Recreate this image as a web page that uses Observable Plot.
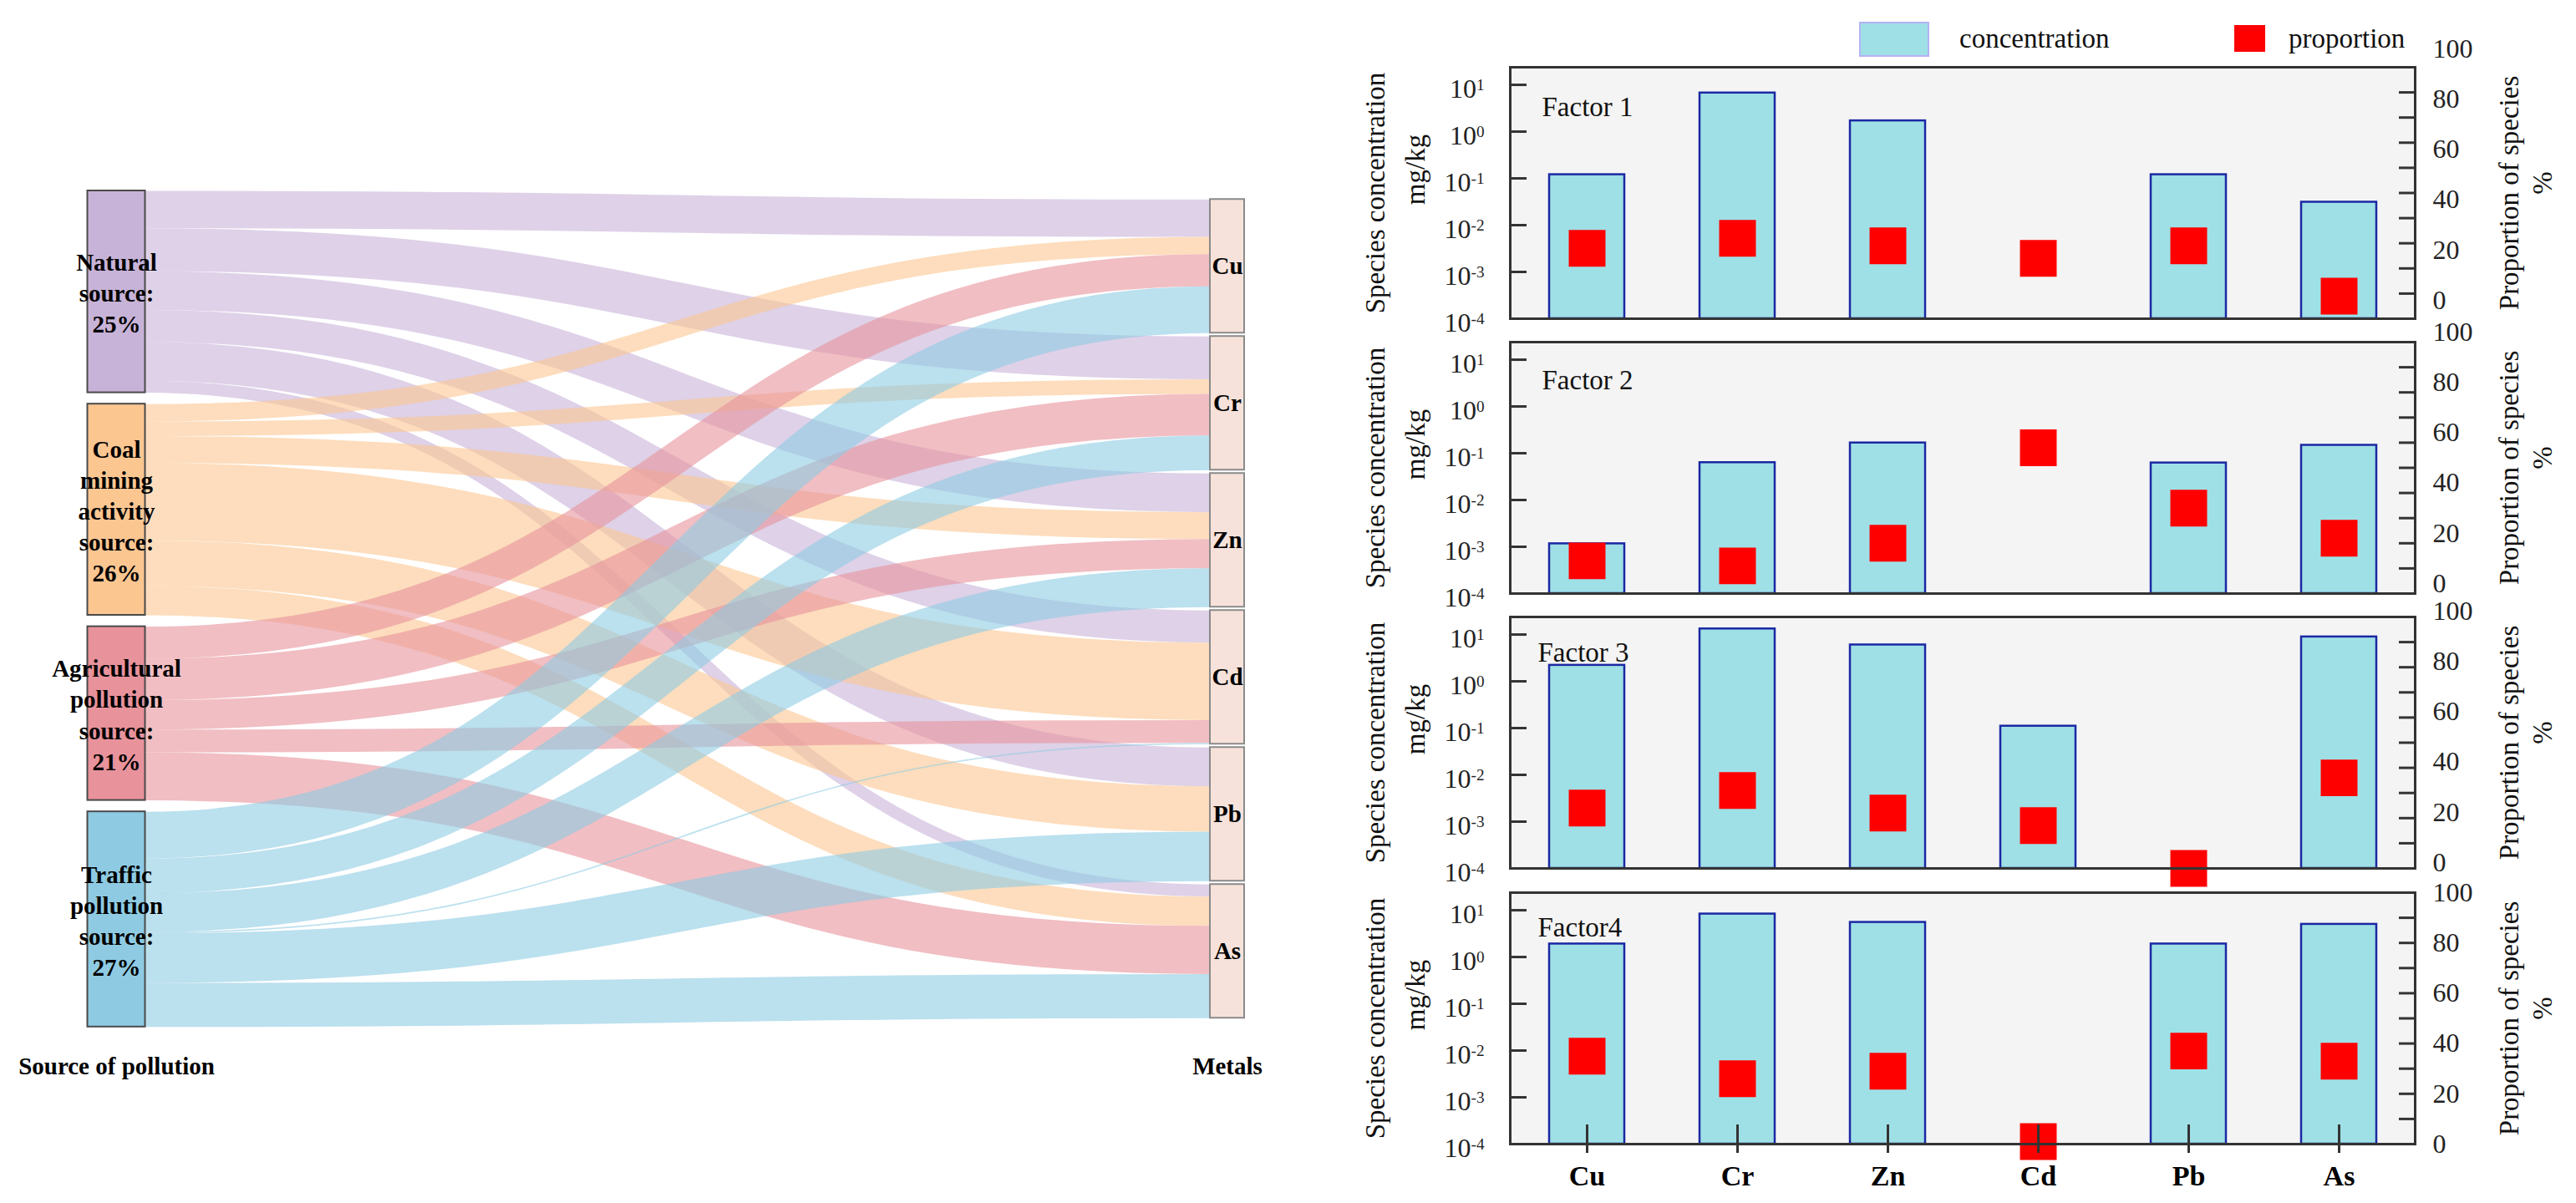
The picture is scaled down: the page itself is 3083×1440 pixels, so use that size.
<!DOCTYPE html>
<html><head><meta charset="utf-8">
<script src="https://cdn.jsdelivr.net/npm/d3@7"></script>
<script src="https://cdn.jsdelivr.net/npm/@observablehq/plot@0.6"></script>
<style>
html,body{margin:0;padding:0;background:#fff;}
#root{position:relative;width:3083px;height:1440px;overflow:hidden;font-family:"Liberation Serif","Times New Roman",serif;color:#111;}
.abs{position:absolute;}
</style></head><body><div id="root"></div>
<script>
// ---------- data ----------
const metals = ["Cu", "Cr", "Zn", "Cd", "Pb", "As"];
const sourceNames = ["Natural source", "Coal mining activity source", "Agricultural pollution source", "Traffic pollution source"];
const sourceLabels = ["Natural\nsource:\n25%", "Coal\nmining\nactivity\nsource:\n26%", "Agricultural\npollution\nsource:\n21%", "Traffic\npollution\nsource:\n27%"];
const sourceColors = ["#c8b3d8", "#fcc691", "#e8929b", "#8ecbe3"];
// proportion of species (%) per factor / source
const propNatural = [28, 32, 29, 24, 29, 9];    // Factor 1
const propCoal    = [13, 11, 20, 58, 34, 22];   // Factor 2
const propAgri    = [24, 31, 22, 17, 0, 36];    // Factor 3
const propTraffic = [35, 26, 29, 1, 37, 33];    // Factor 4
// species concentration (mg/kg)
const concF1 = [0.12, 6.7, 1.7, null, 0.12, 0.031];
const concF2 = [0.00116, 0.063, 0.166, null, 0.062, 0.148];
const concF3 = [2.2, 13.2, 6.0, 0.11, null, 8.9];
const concF4 = [1.9, 8.3, 5.5, null, 1.9, 5.0];
const factorNames = ["Factor 1", "Factor 2", "Factor 3", "Factor4"];
const logTicks = [1e-4, 1e-3, 1e-2, 1e-1, 1, 10];
const propTicks = [0, 10, 20, 30, 40, 50, 60, 70, 80, 90, 100];
const propLabels = [0, 20, 40, 60, 80, 100];

const root = document.getElementById("root");
const FONT = "Liberation Serif, Times New Roman, serif";

// ---------- sankey ----------
const props = [propNatural, propCoal, propAgri, propTraffic];
const K = 1.6;               // px per unit
const gapS = 8.5, gapT = 2.5, offT = 6.4;
let yc = 0;
const srcNodes = props.map((arr, i) => {
  const total = d3.sum(arr);
  const n = {name: sourceNames[i], label: sourceLabels[i], color: sourceColors[i], y0: yc, y1: yc + total};
  yc += total + gapS;
  return n;
});
const spanS = yc - gapS;
let yt = offT;
const tgtNodes = metals.map((m, j) => {
  const total = d3.sum(props, a => a[j]);
  const n = {name: m, y0: yt, y1: yt + total};
  yt += total + gapT;
  return n;
});
const linkMap = new Map();
const sCur = srcNodes.map(n => n.y0), tCur = tgtNodes.map(n => n.y0);
props.forEach((arr, i) => arr.forEach((v, j) => {
  linkMap.set(i + "-" + j, {source: i, target: j, value: v, color: sourceColors[i], sy: sCur[i] + v / 2});
  sCur[i] += v;
}));
metals.forEach((m, j) => props.forEach((arr, i) => {
  const l = linkMap.get(i + "-" + j);
  l.ty = tCur[j] + l.value / 2;
  tCur[j] += l.value;
}));
const linkData = [...linkMap.values()].filter(l => l.value > 0);

const sx0 = 173.5, sx1 = 1448, SW = 1560, SH = 1440;
const srcW = 69 / (sx1 - sx0), tgtW = 41 / (sx1 - sx0);
const syTop = 228;
const sankey = Plot.plot({
  width: SW, height: SH,
  marginLeft: sx0, marginRight: SW - sx1,
  marginTop: syTop, marginBottom: SH - syTop - spanS * K,
  style: {background: "transparent", overflow: "visible", fontFamily: FONT},
  x: {domain: [0, 1], axis: null},
  y: {domain: [0, spanS], reverse: true, axis: null},
  color: {type: "identity"},
  marks: [
    Plot.link(linkData, {x1: () => 0, y1: "sy", x2: () => 1, y2: "ty", curve: "bump-x",
      stroke: "color", strokeOpacity: 0.6, strokeWidth: d => d.value * K}),
    Plot.rect(srcNodes, {x1: () => -srcW, x2: () => 0, y1: "y0", y2: "y1", fill: "color", stroke: "#4a4a4a", strokeWidth: 2}),
    Plot.rect(tgtNodes, {x1: () => 1, x2: () => 1 + tgtW, y1: "y0", y2: "y1", fill: "#f6e2da", stroke: "#8a8a8a", strokeWidth: 2}),
    Plot.text(srcNodes, {x: () => -srcW / 2, y: d => (d.y0 + d.y1) / 2, text: "label", fontWeight: "bold", fontSize: 29, lineHeight: 1.28, fill: "#000"}),
    Plot.text(tgtNodes, {x: () => 1 + tgtW / 2, y: d => (d.y0 + d.y1) / 2, text: "name", fontWeight: "bold", fontSize: 29, fill: "#000"}),
    Plot.text(["Source of pollution"], {x: () => -srcW / 2, frameAnchor: "bottom", dy: 47, textAnchor: "middle", lineAnchor: "middle", fontWeight: "bold", fontSize: 29, fill: "#000"}),
    Plot.text(["Metals"], {x: () => 1 + tgtW / 2, frameAnchor: "bottom", dy: 47, textAnchor: "middle", lineAnchor: "middle", fontWeight: "bold", fontSize: 29, fill: "#000"})
  ]
});
const sdiv = document.createElement("div");
sdiv.className = "abs"; sdiv.style.left = "0px"; sdiv.style.top = "0px"; sdiv.style.width = SW + "px";
sdiv.appendChild(sankey); root.appendChild(sdiv);

// ---------- factor panels ----------
const concs = [concF1, concF2, concF3, concF4];
const yTop = 10 ** 1.376;
const factorDx = [38, 38, 33, 33], factorDy = [48, 46, 43, 42];
const rightLabelDy = [-22, -12, -7, 0];
const W = 1483, mL = 207, mR = 193, mT = 20;
const frameW = W - mL - mR, frameH = 301;

function panel(k) {
  const last = k === 3;
  const mB = last ? 72 : 8, H = frameH + mT + mB;
  const barData = metals.map((m, j) => ({metal: m, value: concs[k][j]})).filter(d => d.value != null);
  const dotData = metals.map((m, j) => ({metal: m, value: props[k][j]}));
  const style = {background: "transparent", overflow: "visible", fontFamily: FONT, fontSize: "32px", color: "#222"};
  const bars = Plot.plot({
    width: W, height: H, marginLeft: mL, marginRight: mR, marginTop: mT, marginBottom: mB, style,
    x: {type: "band", domain: metals, paddingInner: 0.5, paddingOuter: 0.25, axis: null},
    y: {type: "log", domain: [1e-4, yTop], axis: null},
    marks: [
      Plot.frame({fill: "#f4f4f4", stroke: "none"}),
      Plot.barY(barData, {x: "metal", y1: () => 1e-4, y2: "value", fill: "#9fe0e6", stroke: "#1b28a3", strokeWidth: 2.5}),
      Plot.ruleY(logTicks, {y: d => d, insetRight: frameW - 20, stroke: "#333", strokeWidth: 3}),
      Plot.axisY({ticks: logTicks, tickSize: 0, tickPadding: 31, dy: 5, fontSize: 32, label: null,
        tickFormat: d => "10^" + Math.round(Math.log10(d))}),
      Plot.text([factorNames[k]], {frameAnchor: "top-left", dx: factorDx[k], dy: factorDy[k], textAnchor: "start", lineAnchor: "middle", fontSize: 33, fill: "#111"}),
      Plot.text(["Species concentration"], {frameAnchor: "left", dx: -161, rotate: -90, textAnchor: "middle", lineAnchor: "middle", fontSize: 33, fill: "#111"}),
      Plot.text(["mg/kg"], {frameAnchor: "left", dx: -113, dy: -28, rotate: -90, textAnchor: "middle", lineAnchor: "middle", fontSize: 33, fill: "#111"})
    ]
  });
  d3.select(bars).selectAll("text").each(function () {
    const m = /^10\^(-?\d+)$/.exec(this.textContent);
    if (m) {
      const s = d3.select(this);
      s.text("10");
      s.append("tspan").attr("dy", "-0.45em").attr("font-size", "0.6em").text(m[1]);
    }
  });
  const over = Plot.plot({
    width: W, height: H, marginLeft: mL, marginRight: mR, marginTop: mT, marginBottom: mB, style,
    x: {type: "point", domain: metals, padding: 0.5, axis: null},
    y: {domain: [0, 100], axis: null},
    marks: [
      Plot.dot(dotData, {x: "metal", y: "value", symbol: "square", r: 24.8, fill: "#ff0000", stroke: "none"}),
      Plot.ruleY(propTicks, {y: d => d, insetLeft: frameW - 19, stroke: "#333", strokeWidth: 3}),
      Plot.axisY({anchor: "right", ticks: propLabels, tickSize: 0, tickPadding: 21, dy: rightLabelDy[k], fontSize: 32, label: null}),
      Plot.text(["Proportion of species"], {frameAnchor: "right", dx: 113, rotate: -90, textAnchor: "middle", lineAnchor: "middle", fontSize: 33, fill: "#111"}),
      Plot.text(["%"], {frameAnchor: "right", dx: 153, dy: -12, rotate: -90, textAnchor: "middle", lineAnchor: "middle", fontSize: 33, fill: "#111"}),
      last ? Plot.ruleX(metals, {x: d => d, insetTop: frameH - 23, insetBottom: -11, stroke: "#333", strokeWidth: 3}) : null,
      last ? Plot.text(metals, {x: d => d, frameAnchor: "bottom", dy: 39, textAnchor: "middle", lineAnchor: "middle", fontWeight: "bold", fontSize: 34, fill: "#000"}) : null,
      Plot.frame({stroke: "#333", strokeWidth: 3})
    ]
  });
  const top = 80 + 329.2 * k - mT;
  for (const svg of [bars, over]) {
    const d = document.createElement("div");
    d.className = "abs"; d.style.left = "1600px"; d.style.top = top + "px"; d.style.width = W + "px";
    d.appendChild(svg); root.appendChild(d);
  }
}
[0, 1, 2, 3].forEach(panel);

// ---------- legend ----------
function addDiv(css, text) {
  const d = document.createElement("div");
  d.className = "abs";
  Object.assign(d.style, css);
  if (text) d.textContent = text;
  root.appendChild(d);
}
addDiv({left: "2225px", top: "26px", width: "80px", height: "38px", background: "#9fe0e6", border: "2px solid #b4b2f4"});
addDiv({left: "2345px", top: "26px", height: "40px", lineHeight: "40px", fontSize: "33px", fontFamily: FONT}, "concentration");
addDiv({left: "2674px", top: "30px", width: "37px", height: "32px", background: "#ff0000"});
addDiv({left: "2739px", top: "26px", height: "40px", lineHeight: "40px", fontSize: "33px", fontFamily: FONT}, "proportion");
</script></body></html>
